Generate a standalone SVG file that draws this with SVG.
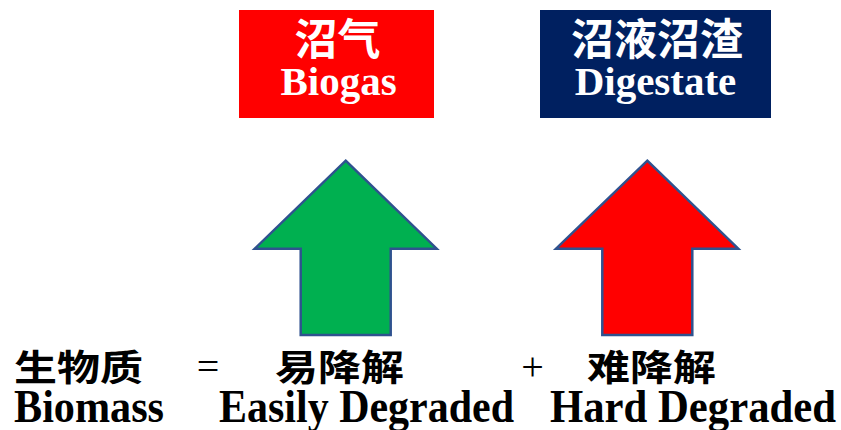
<svg xmlns="http://www.w3.org/2000/svg" width="841" height="430" viewBox="0 0 841 430">
<style>
.cjk{font-family:"Noto Sans CJK SC","Noto Sans",sans-serif;font-weight:bold;}
.lat{font-family:"Liberation Serif","Times New Roman",serif;font-weight:bold;}
.w{fill:#FFFFFF;}
.k{fill:#000000;}
.op{font-family:"Liberation Serif","Times New Roman",serif;font-weight:normal;fill:#000000;}
.arrow{stroke:#2F528F;stroke-width:2.5;stroke-linejoin:miter;}
</style>
<rect width="841" height="430" fill="#FFFFFF"/>
<g id="node-biogas">
  <rect x="239" y="10" width="195" height="108" fill="#FF0000"/>
  <text class="cjk w" x="337.5" y="55" font-size="43" text-anchor="middle">沼气</text>
  <text class="lat w" x="338.5" y="95" font-size="41" text-anchor="middle">Biogas</text>
</g>
<g id="node-digestate">
  <rect x="540" y="10" width="231" height="108" fill="#002060"/>
  <text class="cjk w" x="657" y="55" font-size="43" text-anchor="middle">沼液沼渣</text>
  <text class="lat w" x="655.5" y="95" font-size="41" text-anchor="middle">Digestate</text>
</g>
<g id="connectors">
  <polygon class="arrow" fill="#00B050" points="345.7,160.7 436.7,248.7 390.7,248.7 390.7,335 300.7,335 300.7,248.7 254.7,248.7"/>
  <polygon class="arrow" fill="#FF0000" points="647.3,160.7 738.3,248.7 692.3,248.7 692.3,335 602.3,335 602.3,248.7 556,248.7"/>
</g>
<g id="node-biomass">
  <text class="cjk k" transform="translate(0,380.7) scale(1,0.85)" x="14" y="0" font-size="43" font-weight="900">生物质</text>
  <text class="lat k" x="14" y="422" font-size="46" textLength="150" lengthAdjust="spacingAndGlyphs">Biomass</text>
</g>
<g id="op-eq">
  <text class="op" x="208" y="380" font-size="40" text-anchor="middle">=</text>
</g>
<g id="node-easy">
  <text class="cjk k" transform="translate(0,380.7) scale(1,0.85)" x="275" y="0" font-size="43" font-weight="900">易降解</text>
  <text class="lat k" x="219" y="422" font-size="46" textLength="295" lengthAdjust="spacingAndGlyphs">Easily Degraded</text>
</g>
<g id="op-plus">
  <text class="op" x="532.5" y="380" font-size="40" text-anchor="middle">+</text>
</g>
<g id="node-hard">
  <text class="cjk k" transform="translate(0,380.7) scale(1,0.85)" x="587" y="0" font-size="43" font-weight="900">难降解</text>
  <text class="lat k" x="550" y="422" font-size="46" textLength="286" lengthAdjust="spacingAndGlyphs">Hard Degraded</text>
</g>
</svg>
